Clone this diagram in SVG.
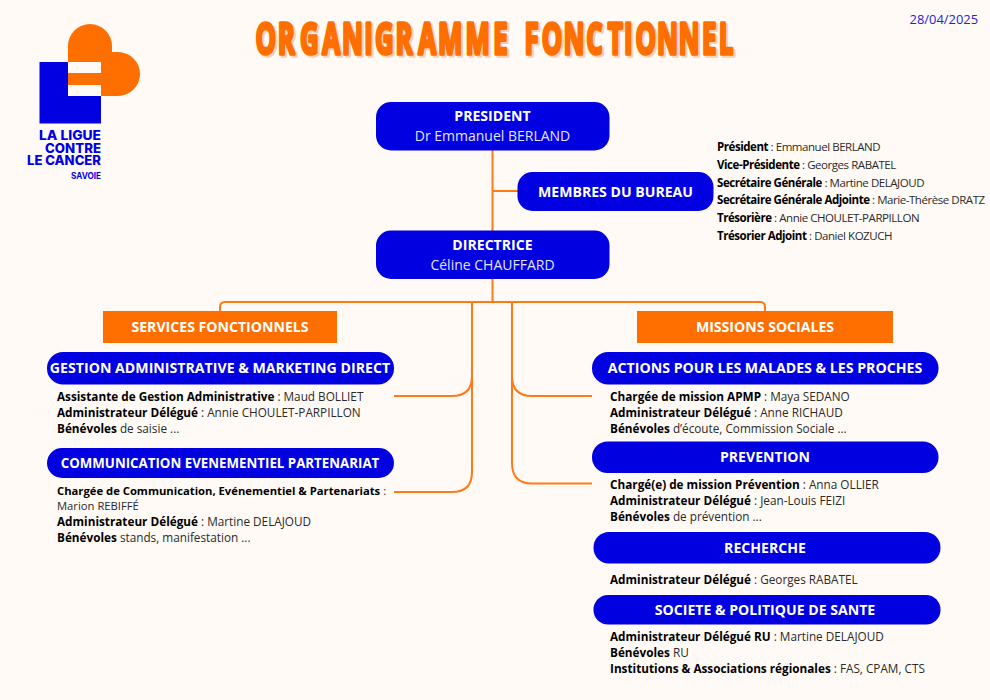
<svg xmlns="http://www.w3.org/2000/svg" width="990" height="700" viewBox="0 0 990 700">
<style>
text{font-family:"Open Sans","Noto Sans","Liberation Sans",sans-serif;}
.t{font-size:11.75px;fill:#2a2a2a;}
.u{font-size:11.500px;letter-spacing:-.45px;}
.s{font-size:11.250px;}
.t tspan.b{font-weight:700;fill:#000;}
.h{font-size:14.100px;font-weight:700;fill:#fff;text-anchor:middle;}
.n{font-size:14px;fill:#e4e4ff;text-anchor:middle;}
.box{fill:#0000e0;}
.or{fill:#ff6f00;}
.c{fill:none;stroke:#ff7a14;stroke-width:2;}
.logo{font-family:Inter,"Liberation Sans",sans-serif;font-weight:800;fill:#0000e0;font-size:13px;}
.ti{font-size:43px;font-weight:700;stroke-width:3.500;stroke-linejoin:round;}
</style>
<rect width="990" height="700" fill="#fffaf5"/>
<g id="logo">
<path class="or" d="M68 96V46a22 22 0 0 1 44 0V52H118a22 22 0 0 1 0 44Z"/>
<path class="box" d="M39.500 62H68V96H101V123.500H39.500Z"/>
<rect x="68" y="62" width="33" height="11" fill="#fffaf5"/>
<rect x="68" y="85" width="33" height="11" fill="#fffaf5"/>
<text class="logo" x="39" y="140" textLength="62" lengthAdjust="spacingAndGlyphs">LA LIGUE</text>
<text class="logo" x="45" y="152.500" textLength="56" lengthAdjust="spacingAndGlyphs">CONTRE</text>
<text class="logo" x="27" y="165" textLength="74" lengthAdjust="spacingAndGlyphs">LE CANCER</text>
<text class="logo" x="71" y="179" textLength="30" lengthAdjust="spacingAndGlyphs" style="font-size:8.500px;font-weight:700">SAVOIE</text>
</g>
<g id="title">
<text class="ti" transform="translate(2 2) scale(.6 1)" y="54" fill="#f3d2b8" stroke="#f3d2b8" x="426 463 500 537 570 607 625 659 697 730 776 822 850 874 903 939 977 1013 1040 1059 1095 1131 1170 1198">ORGANIGRAMME FONCTIONNEL</text>
<text class="ti" transform="scale(.6 1)" y="54" fill="#ff6f00" stroke="#ff6f00" x="426 463 500 537 570 607 625 659 697 730 776 822 850 874 903 939 977 1013 1040 1059 1095 1131 1170 1198">ORGANIGRAMME FONCTIONNEL</text>
</g>
<text id="date" x="978" y="24" text-anchor="end" style="font-size:12.900px;fill:#2222dd">28/04/2025</text>
<g id="connectors">
<path class="c" d="M492.500 150V231M492.500 191H518M492.500 278V302"/>
<path class="c" d="M220 311V307Q220 302 225 302H760Q765 302 765 307V311"/>
<path class="c" d="M472 302V376Q472 396 452 396H394M472 302V472Q472 492 452 492H394"/>
<path class="c" d="M512 302V376Q512 396 532 396H592M512 302V463Q512 483.500 532 483.500H592"/>
</g>
<g id="president"><rect class="box" x="376" y="102" width="233.500" height="48.500" rx="15"/><text class="h" x="492.500" y="121">PRESIDENT</text><text class="n" x="492.500" y="141">Dr Emmanuel BERLAND</text></g>
<g id="bureau"><rect class="box" x="517.500" y="172" width="196" height="39" rx="15"/><text class="h" x="615.500" y="197">MEMBRES DU BUREAU</text></g>
<g id="bureau-list">
<text class="t u" x="717" y="151"><tspan class="b">Président</tspan> : Emmanuel BERLAND</text>
<text class="t u" x="717" y="169"><tspan class="b">Vice-Présidente</tspan> : Georges RABATEL</text>
<text class="t u" x="717" y="187"><tspan class="b">Secrétaire Générale</tspan> : Martine DELAJOUD</text>
<text class="t u" x="717" y="204"><tspan class="b">Secrétaire Générale Adjointe</tspan> : Marie-Thérèse DRATZ</text>
<text class="t u" x="717" y="222"><tspan class="b">Trésorière</tspan> : Annie CHOULET-PARPILLON</text>
<text class="t u" x="717" y="240"><tspan class="b">Trésorier Adjoint</tspan> : Daniel KOZUCH</text>
</g>
<g id="directrice"><rect class="box" x="376" y="230.500" width="233.500" height="48.500" rx="15"/><text class="h" x="492.500" y="249.500">DIRECTRICE</text><text class="n" x="492.500" y="270">Céline CHAUFFARD</text></g>
<g id="services"><rect class="or" x="103" y="311" width="234" height="32"/><text class="h" x="220" y="332">SERVICES FONCTIONNELS</text></g>
<g id="missions"><rect class="or" x="637" y="311" width="256" height="32"/><text class="h" x="765" y="332">MISSIONS SOCIALES</text></g>
<g id="gestion"><rect class="box" x="47" y="352" width="347" height="32.500" rx="16"/><text class="h" x="220" y="373" style="font-size:14.150px">GESTION ADMINISTRATIVE &amp; MARKETING DIRECT</text>
<text class="t" x="57" y="401"><tspan class="b">Assistante de Gestion Administrative</tspan> : Maud BOLLIET</text>
<text class="t" x="57" y="417"><tspan class="b">Administrateur Délégué</tspan> : Annie CHOULET-PARPILLON</text>
<text class="t" x="57" y="433"><tspan class="b">Bénévoles</tspan> de saisie ...</text></g>
<g id="communication"><rect class="box" x="47" y="448" width="347" height="30" rx="15"/><text class="h" x="220" y="468" style="font-size:13.300px">COMMUNICATION EVENEMENTIEL PARTENARIAT</text>
<text class="t s" x="57" y="495"><tspan class="b">Chargée de Communication, Evénementiel &amp; Partenariats</tspan> :</text>
<text class="t s" x="57" y="510">Marion REBIFFÉ</text>
<text class="t" x="57" y="526"><tspan class="b">Administrateur Délégué</tspan> : Martine DELAJOUD</text>
<text class="t" x="57" y="542"><tspan class="b">Bénévoles</tspan> stands, manifestation ...</text></g>
<g id="actions"><rect class="box" x="592" y="352" width="346.500" height="32.500" rx="16"/><text class="h" x="765" y="373" style="font-size:14.150px">ACTIONS POUR LES MALADES &amp; LES PROCHES</text>
<text class="t" x="610" y="401"><tspan class="b">Chargée de mission APMP</tspan> : Maya SEDANO</text>
<text class="t" x="610" y="417"><tspan class="b">Administrateur Délégué</tspan> : Anne RICHAUD</text>
<text class="t" x="610" y="433"><tspan class="b">Bénévoles</tspan> d’écoute, Commission Sociale ...</text></g>
<g id="prevention"><rect class="box" x="592" y="441.500" width="346.500" height="31.500" rx="15.500"/><text class="h" x="765" y="462">PREVENTION</text>
<text class="t" x="610" y="489"><tspan class="b">Chargé(e) de mission Prévention</tspan> : Anna OLLIER</text>
<text class="t" x="610" y="505"><tspan class="b">Administrateur Délégué</tspan> : Jean-Louis FEIZI</text>
<text class="t" x="610" y="521"><tspan class="b">Bénévoles</tspan> de prévention ...</text></g>
<g id="recherche"><rect class="box" x="593.500" y="532" width="347" height="31.500" rx="15.500"/><text class="h" x="765" y="553">RECHERCHE</text>
<text class="t" x="610" y="584"><tspan class="b">Administrateur Délégué</tspan> : Georges RABATEL</text></g>
<g id="societe"><rect class="box" x="593.500" y="595" width="347" height="29.500" rx="14.500"/><text class="h" x="765" y="615">SOCIETE &amp; POLITIQUE DE SANTE</text>
<text class="t" x="610" y="641"><tspan class="b">Administrateur Délégué RU</tspan> : Martine DELAJOUD</text>
<text class="t" x="610" y="657"><tspan class="b">Bénévoles</tspan> RU</text>
<text class="t" x="610" y="673"><tspan class="b">Institutions &amp; Associations régionales</tspan> : FAS, CPAM, CTS</text></g>
</svg>
